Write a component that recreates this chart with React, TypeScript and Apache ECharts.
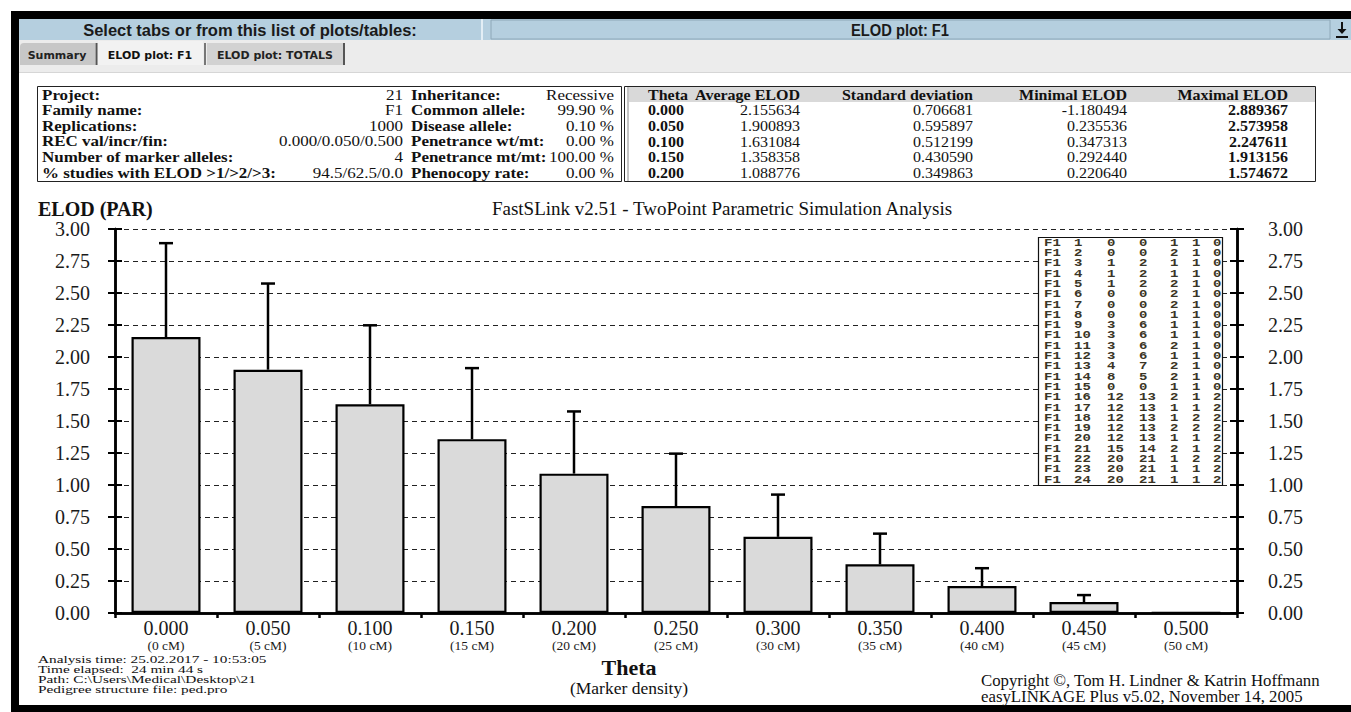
import React, { useEffect, useRef } from "react";
import * as echarts from "echarts";

// ---- chart data ----
const thetaValues = ["0.000", "0.050", "0.100", "0.150", "0.200", "0.250", "0.300", "0.350", "0.400", "0.450", "0.500"];
const cmLabels = ["(0 cM)", "(5 cM)", "(10 cM)", "(15 cM)", "(20 cM)", "(25 cM)", "(30 cM)", "(35 cM)", "(40 cM)", "(45 cM)", "(50 cM)"];
const averageElod = [2.155634, 1.900893, 1.631084, 1.358358, 1.088776, 0.835, 0.595, 0.38, 0.21, 0.085, 0.002];
const maximalElod = [2.889367, 2.573958, 2.247611, 1.913156, 1.574672, 1.245, 0.925, 0.62, 0.35, 0.14, 0];
const sdElod = [0.706681, 0.595897, 0.512199, 0.43059, 0.349863];
const minimalElod = [-1.180494, 0.235536, 0.347313, 0.29244, 0.22064];

// ---- parameter table ----
const leftLabels = ["Project:", "Family name:", "Replications:", "REC val/incr/fin:", "Number of marker alleles:", "% studies with ELOD >1/>2/>3:"];
const leftValues = ["21", "F1", "1000", "0.000/0.050/0.500", "4", "94.5/62.5/0.0"];
const midLabels = ["Inheritance:", "Common allele:", "Disease allele:", "Penetrance wt/mt:", "Penetrance mt/mt:", "Phenocopy rate:"];
const midValues = ["Recessive", "99.90 %", "0.10 %", "0.00 %", "100.00 %", "0.00 %"];
const statHeaders = ["Theta", "Average ELOD", "Standard deviation", "Minimal ELOD", "Maximal ELOD"];

// ---- pedigree structure ----
const pedigreeRows = [
  ["F1", "1", "0", "0", "1", "1", "0"],
  ["F1", "2", "0", "0", "2", "1", "0"],
  ["F1", "3", "1", "2", "1", "1", "0"],
  ["F1", "4", "1", "2", "1", "1", "0"],
  ["F1", "5", "1", "2", "2", "1", "0"],
  ["F1", "6", "0", "0", "2", "1", "0"],
  ["F1", "7", "0", "0", "2", "1", "0"],
  ["F1", "8", "0", "0", "1", "1", "0"],
  ["F1", "9", "3", "6", "1", "1", "0"],
  ["F1", "10", "3", "6", "1", "1", "0"],
  ["F1", "11", "3", "6", "2", "1", "0"],
  ["F1", "12", "3", "6", "1", "1", "0"],
  ["F1", "13", "4", "7", "2", "1", "0"],
  ["F1", "14", "8", "5", "2", "1", "0"],
  ["F1", "15", "0", "0", "1", "1", "0"],
  ["F1", "16", "12", "13", "2", "1", "2"],
  ["F1", "17", "12", "13", "1", "1", "2"],
  ["F1", "18", "12", "13", "1", "2", "2"],
  ["F1", "19", "12", "13", "2", "2", "2"],
  ["F1", "20", "12", "13", "1", "1", "2"],
  ["F1", "21", "15", "14", "2", "1", "2"],
  ["F1", "22", "20", "21", "1", "2", "2"],
  ["F1", "23", "20", "21", "1", "1", "2"],
  ["F1", "24", "20", "21", "1", "1", "2"],
];

const footerLeft = [
  "Analysis time: 25.02.2017 - 10:53:05",
  "Time elapsed:  24 min 44 s",
  "Path: C:\\Users\\Medical\\Desktop\\21",
  "Pedigree structure file: ped.pro",
];
const footerRight = ["Copyright \u00a9, Tom H. Lindner & Katrin Hoffmann", "easyLINKAGE Plus v5.02, November 14, 2005"];

const SERIF = "'Liberation Serif', 'Times New Roman', serif";
const SANS = "'Liberation Sans', Arial, sans-serif";
const TAB = "'DejaVu Sans', Tahoma, sans-serif";
const MONO = "'Liberation Mono', 'Courier New', monospace";

function text(x: number, y: number, t: string, font: string, align = "left", opts: any = {}) {
  return {
    type: "text",
    x,
    y,
    z: opts.z ?? 20,
    scaleX: opts.scaleX ?? 1,
    scaleY: opts.scaleY ?? 1,
    style: {
      text: t,
      font,
      fill: opts.fill || "#111",
      textAlign: align,
      align,
      textVerticalAlign: "middle",
      verticalAlign: "middle",
    },
  };
}

function rect(x: number, y: number, w: number, h: number, fill: string, stroke?: string, lw = 1, z = 5, r?: any) {
  return {
    type: "rect",
    z,
    shape: { x, y, width: w, height: h, r: r || 0 },
    style: { fill, stroke: stroke || "none", lineWidth: lw },
  };
}

function line(x1: number, y1: number, x2: number, y2: number, stroke: string, lw = 1, z = 6) {
  return { type: "line", z, shape: { x1, y1, x2, y2 }, style: { stroke, lineWidth: lw } };
}

function buildGraphics() {
  const g: any[] = [];
  // window frame
  g.push(rect(11, 11, 1340, 8, "#000"));
  g.push(rect(11, 11, 8, 701, "#000"));
  g.push(rect(11, 705, 1340, 7, "#000"));

  // header bar
  g.push(rect(19, 19, 1332, 21, "#b5cfdf"));
  g.push(text(250, 30, "Select tabs or from this list of plots/tables:", `bold 16.5px ${SANS}`, "center", { fill: "#1a1a1a" }));
  g.push(line(482, 19, 482, 40, "#e3eef5", 2));
  g.push(rect(491, 20, 839, 19, "#b5cfdf", "#8ea8b8", 1));
  g.push(text(900, 30, "ELOD plot: F1", `bold 16px ${SANS}`, "center", { fill: "#1a1a1a", scaleX: 0.92 }));
  // download icon
  g.push(line(1342, 22, 1342, 31, "#111", 2));
  g.push({ type: "polygon", z: 6, shape: { points: [[1337.5, 29], [1346.5, 29], [1342, 34]] }, style: { fill: "#111" } });
  g.push(line(1336, 37, 1348, 37, "#111", 2));

  // tab strip
  g.push(rect(19, 40, 1332, 33, "#ececec"));
  g.push(line(19, 72.5, 1351, 72.5, "#d6d6d6", 1));
  g.push(rect(20, 43, 75, 22, "#c7c7c7", undefined, 1, 5, [4, 0, 0, 0]));
  g.push(line(96.5, 43, 96.5, 65, "#555", 2));
  g.push(rect(98, 41, 105, 24, "#f2f2f2"));
  g.push(line(205, 43, 205, 65, "#777", 2));
  g.push(rect(207, 43, 136, 22, "#d2d2d2"));
  g.push(line(344, 43, 344, 65, "#555", 2));
  g.push(text(57, 55, "Summary", `bold 11px ${TAB}`, "center", { fill: "#222" }));
  g.push(text(150, 55, "ELOD plot: F1", `bold 11px ${TAB}`, "center", { fill: "#111" }));
  g.push(text(275, 55, "ELOD plot: TOTALS", `bold 11px ${TAB}`, "center", { fill: "#222" }));

  // parameter table
  const rowY = (i: number) => 94.5 + i * 15.6;
  const sq = { scaleY: 0.88 };
  g.push(rect(37.5, 86.5, 584, 95, "#fff", "#222", 1));
  leftLabels.forEach((t, i) => g.push(text(42, rowY(i), t, `bold 17px ${SERIF}`, "left", sq)));
  leftValues.forEach((t, i) => g.push(text(403, rowY(i), t, `17px ${SERIF}`, "right", sq)));
  midLabels.forEach((t, i) => g.push(text(411, rowY(i), t, `bold 17px ${SERIF}`, "left", sq)));
  midValues.forEach((t, i) => g.push(text(614, rowY(i), t, `17px ${SERIF}`, "right", sq)));

  // statistics table
  const sq2 = { scaleY: 0.92 };
  g.push(rect(624.5, 86.5, 691, 95, "#fff", "#222", 1));
  g.push(line(628, 87, 628, 181, "#888", 1));
  g.push(rect(629, 87, 686, 15, "#d9d9d9"));
  g.push(text(668, 94.5, statHeaders[0], `bold 16px ${SERIF}`, "center", sq2));
  g.push(text(800, 94.5, statHeaders[1], `bold 16px ${SERIF}`, "right", sq2));
  g.push(text(973, 94.5, statHeaders[2], `bold 16px ${SERIF}`, "right", sq2));
  g.push(text(1127, 94.5, statHeaders[3], `bold 16px ${SERIF}`, "right", sq2));
  g.push(text(1288, 94.5, statHeaders[4], `bold 16px ${SERIF}`, "right", sq2));
  for (let i = 0; i < 5; i++) {
    const y = rowY(i + 1);
    g.push(text(648, y, thetaValues[i], `bold 16px ${SERIF}`, "left", sq2));
    g.push(text(800, y, averageElod[i].toFixed(6), `16px ${SERIF}`, "right", sq2));
    g.push(text(973, y, sdElod[i].toFixed(6), `16px ${SERIF}`, "right", sq2));
    g.push(text(1127, y, minimalElod[i].toFixed(6), `16px ${SERIF}`, "right", sq2));
    g.push(text(1288, y, maximalElod[i].toFixed(6), `bold 16px ${SERIF}`, "right", sq2));
  }

  // axis captions
  g.push(text(38, 209, "ELOD (PAR)", `bold 20px ${SERIF}`, "left", { fill: "#111" }));
  g.push(text(629, 667, "Theta", `bold 22px ${SERIF}`, "center"));
  g.push(text(629, 688, "(Marker density)", `17.5px ${SERIF}`, "center"));

  // pedigree listing
  g.push(rect(1038.5, 237.5, 184, 248, "#fff", "#111", 1.2, 30));
  const colX = [1044, 1074, 1107, 1139, 1170, 1192, 1213];
  pedigreeRows.forEach((row, r) => {
    row.forEach((cell, c) => {
      g.push(text(colX[c], 243.3 + r * 10.3, cell, `bold 14px ${MONO}`, "left", { fill: "#3a3526", scaleY: 0.72, z: 31 }));
    });
  });

  // footers
  footerLeft.forEach((t, i) => g.push(text(38, 659 + i * 10.3, t, `15.3px ${SERIF}`, "left", { scaleY: 0.66 })));
  footerRight.forEach((t, i) => g.push(text(981, 680 + i * 16.5, t, `16.8px ${SERIF}`)));
  return g;
}

const axisLineStyle = { color: "#000", width: 2.5 };
const tickStyle = { color: "#000", width: 2 };
const yBase = { type: "value", min: 0, max: 3, interval: 0.25, axisLine: { show: true, lineStyle: axisLineStyle }, splitLine: { show: false } };
const yLabel = { formatter: (v: number) => v.toFixed(2), fontFamily: SERIF, fontSize: 20, color: "#1a1a1a" };

function buildOption(): any {
  return {
    animation: false,
    backgroundColor: "#fff",
    title: {
      text: "FastSLink v2.51 - TwoPoint Parametric Simulation Analysis",
      left: 717,
      top: 194,
      textAlign: "center",
      textStyle: { fontFamily: SERIF, fontSize: 19, fontWeight: "normal", color: "#111" },
    },
    grid: { left: 115, top: 229, right: 114, bottom: 99 },
    xAxis: [
      {
        type: "category",
        data: thetaValues,
        position: "bottom",
        boundaryGap: true,
        axisLine: { show: true, lineStyle: axisLineStyle },
        axisTick: { show: true, interval: 0, length: 5, lineStyle: { color: "#000", width: 2.5 } },
        axisLabel: {
          interval: 0,
          margin: 5,
          formatter: (v: string, i: number) => `{a|${v}}\n{b|${cmLabels[i]}}`,
          rich: {
            a: { fontFamily: SERIF, fontSize: 20, lineHeight: 20, color: "#1a1a1a" },
            b: { fontFamily: SERIF, fontSize: 13.5, lineHeight: 14, color: "#1a1a1a" },
          },
        },
      },
      {
        type: "category",
        data: thetaValues,
        position: "top",
        axisLine: { show: true, lineStyle: axisLineStyle },
        axisTick: { show: false },
        axisLabel: { show: false },
      },
    ],
    yAxis: [
      {
        ...yBase,
        position: "left",
        axisTick: { show: true, inside: false, length: 7, lineStyle: tickStyle },
        axisLabel: { ...yLabel, margin: 25 },
        splitLine: { show: true, lineStyle: { color: "#222", width: 1, type: [5, 4] } },
      },
      { ...yBase, position: "left", axisTick: { show: true, inside: true, length: 7, lineStyle: tickStyle }, axisLabel: { show: false } },
      { ...yBase, position: "right", axisTick: { show: true, inside: false, length: 7, lineStyle: tickStyle }, axisLabel: { ...yLabel, margin: 31 } },
      { ...yBase, position: "right", axisTick: { show: true, inside: true, length: 7, lineStyle: tickStyle }, axisLabel: { show: false } },
    ],
    graphic: { elements: buildGraphics() },
    series: [
      {
        type: "bar",
        name: "Average ELOD",
        xAxisIndex: 0,
        yAxisIndex: 0,
        data: averageElod,
        barWidth: 69,
        itemStyle: { color: "#dadada", borderColor: "#000", borderWidth: 2.2 },
        z: 2,
      },
      {
        type: "custom",
        name: "Maximal ELOD",
        xAxisIndex: 0,
        yAxisIndex: 0,
        z: 3,
        data: averageElod.map((m, i) => [i, m, maximalElod[i]]),
        encode: { x: 0, y: [1, 2] },
        renderItem: (_params: any, api: any) => {
          const i = api.value(0);
          const lo = api.value(1);
          const hi = api.value(2);
          if (!(hi > lo)) return { type: "group", children: [] };
          const p0 = api.coord([i, lo]);
          const p1 = api.coord([i, hi]);
          const style = { stroke: "#000", lineWidth: 2.5 };
          return {
            type: "group",
            children: [
              { type: "line", shape: { x1: p0[0], y1: p0[1], x2: p1[0], y2: p1[1] }, style },
              { type: "line", shape: { x1: p1[0] - 7, y1: p1[1], x2: p1[0] + 7, y2: p1[1] }, style },
            ],
          };
        },
      },
    ],
  };
}

export default function App() {
  const ref = useRef<HTMLDivElement>(null);
  useEffect(() => {
    if (!ref.current) return;
    const chart = echarts.init(ref.current, null, { renderer: "svg" });
    chart.setOption(buildOption());
    return () => chart.dispose();
  }, []);
  return (
    <div
      ref={ref}
      style={{ position: "fixed", left: 0, top: 0, width: 1351, height: 712, background: "#fff" }}
    />
  );
}
